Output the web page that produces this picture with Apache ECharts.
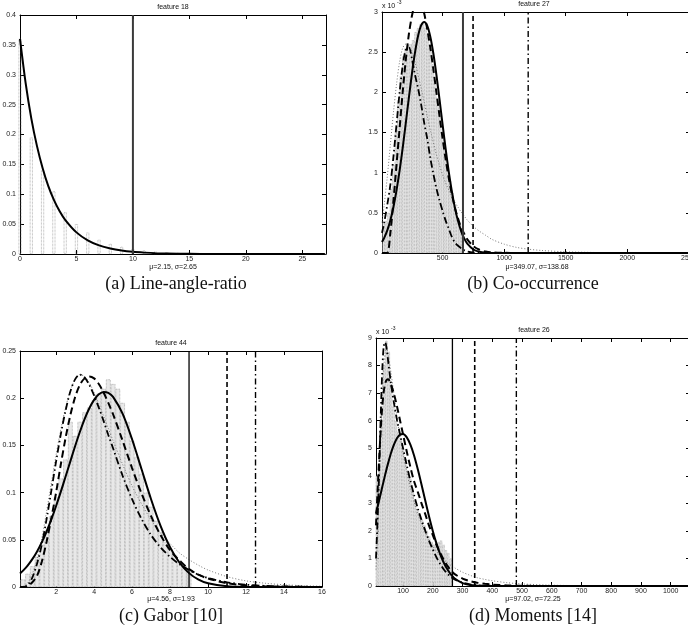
<!DOCTYPE html>
<html>
<head>
<meta charset="utf-8">
<script src="https://cdn.jsdelivr.net/npm/echarts@6/dist/echarts.min.js"></script>
<style>
html,body{margin:0;padding:0;background:#fff;}
#c{width:688px;height:634px;}
</style>
</head>
<body>
<div id="c"></div>
<script>
// ---------- (a) feature 18 : Line-angle-ratio ----------
const A_xTicks = [0, 5, 10, 15, 20, 25];
const A_histX = [0,1,2,3,4,5,6,7,8,9,10,11,12,13,14,15,16,17,18,19,20,21,22,23,24,25,26,27];
const A_histY = [0.36,0.195,0.14,0.105,0.07,0.05,0.036,0.024,0.017,0.012,0.008,0.006,0.004,0.003,0.002,0.002,0.0015,0.001,0.001,0.001,0.0008,0.0008,0.0006,0.0005,0.0005,0.0004,0.0004,0.0003];
const A_curveX = [0,0.5,1,1.5,2,2.5,3,3.5,4,5,6,7,8,9,10,11,12,14,16,20,27];
const A_solid  = [0.36,0.286,0.227,0.181,0.144,0.114,0.0906,0.072,0.0573,0.0362,0.0229,0.0144,0.0091,0.0057,0.0036,0.0023,0.0014,0.0006,0.0002,0,0];
const A_lineSolid = 10;

// ---------- (b) feature 27 : Co-occurrence (values in units of 1e-3) ----------
const B_xTicks = [500, 1000, 1500, 2000, 2500];
const B_histX = [20,40,60,80,100,120,140,160,180,200,220,240,260,280,300,320,340,360,380,400,420,440,460,480,500,520,540,560,580,600,620,640,660];
const B_histY = [0.38,0.4,0.5,0.8,1.1,1.5,1.9,2.2,2.45,2.55,2.55,2.6,2.65,2.75,2.8,2.85,2.85,2.8,2.7,2.55,2.35,2.15,1.9,1.7,1.5,1.3,1.1,0.9,0.75,0.6,0.45,0.35,0.25];
const B_curveX  = [7,25,50,75,100,125,150,175,200,225,250,275,300,325,350,375,400,425,450,475,500,525,550,575,600,625,650,675,700,750,800,850,900,1000,1100,1200,1300,1500,1750,2000,2250,2510];
const B_solid   = [0.137,0.188,0.281,0.408,0.573,0.78,1.026,1.307,1.614,1.928,2.229,2.494,2.702,2.834,2.877,2.827,2.689,2.477,2.208,1.905,1.592,1.286,1.006,0.763,0.559,0.397,0.273,0.182,0.117,0.044,0.0146,0.0042,0.0011,0.0001,0,0,0,0,0,0,0,0];
const B_dashed  = [0,0,0,0.25,0.65,1.1,1.55,2.0,2.4,2.72,2.95,3.1,3.15,3.1,2.98,2.78,2.55,2.28,1.99,1.7,1.42,1.16,0.93,0.73,0.56,0.43,0.32,0.24,0.17,0.085,0.04,0.018,0.008,0.002,0,0,0,0,0,0,0,0];
const B_dashDot = [0.25,0.38,0.6,0.85,1.2,1.6,2.0,2.33,2.53,2.56,2.42,2.22,2.05,1.85,1.62,1.42,1.18,0.98,0.8,0.65,0.52,0.4,0.3,0.2,0.13,0.09,0.06,0.035,0.02,0.005,0,0,0,0,0,0,0,0,0,0,0,0];
const B_dotted  = [0.38,0.6,0.95,1.35,1.75,2.1,2.38,2.55,2.6,2.58,2.5,2.38,2.22,2.05,1.88,1.7,1.53,1.37,1.22,1.09,0.97,0.87,0.78,0.7,0.63,0.57,0.51,0.46,0.41,0.33,0.27,0.22,0.17,0.11,0.07,0.047,0.032,0.015,0.006,0.003,0.0015,0.001];
const B_lineSolid = 665, B_lineDashed = 747, B_lineDashDot = 1195;

// ---------- (c) feature 44 : Gabor ----------
const C_xTicks = [2, 4, 6, 8, 10, 12, 14, 16];
const C_histX = [0.25,0.5,0.75,1,1.25,1.5,1.75,2,2.25,2.5,2.75,3,3.25,3.5,3.75,4,4.25,4.5,4.75,5,5.25,5.5,5.75,6,6.25,6.5,6.75,7,7.25,7.5,7.75,8,8.25,8.5,8.75,9];
const C_histY = [0.008,0.014,0.022,0.032,0.045,0.06,0.075,0.095,0.115,0.135,0.175,0.16,0.175,0.185,0.19,0.198,0.205,0.21,0.22,0.215,0.21,0.195,0.175,0.155,0.138,0.12,0.1,0.085,0.07,0.058,0.048,0.04,0.034,0.028,0.022,0.018];
const C_curveX  = [0.1,0.3,0.5,0.75,1,1.25,1.5,1.75,2,2.25,2.5,2.75,3,3.25,3.5,3.75,4,4.25,4.5,4.75,5,5.5,6,6.5,7,7.5,8,8.5,9,9.5,10,11,12,13,14,15,16];
const C_solid   = [0.0143,0.0181,0.0226,0.0295,0.0377,0.0475,0.0588,0.0716,0.0858,0.101,0.117,0.1331,0.1491,0.1642,0.1778,0.1893,0.1982,0.2041,0.2066,0.2057,0.2014,0.1836,0.1565,0.1247,0.093,0.0648,0.0422,0.0257,0.0147,0.0078,0.0039,0.0008,0.0001,0,0,0,0];
const C_dashed  = [0,0,0.001,0.005,0.012,0.027,0.048,0.073,0.1,0.13,0.158,0.182,0.201,0.214,0.221,0.223,0.221,0.215,0.206,0.195,0.183,0.155,0.126,0.099,0.075,0.055,0.039,0.028,0.019,0.013,0.009,0.004,0.0018,0.0008,0.0003,0.0001,0];
const C_dashDot = [0,0,0.002,0.01,0.025,0.045,0.072,0.102,0.133,0.162,0.187,0.207,0.22,0.225,0.222,0.214,0.203,0.19,0.176,0.161,0.147,0.118,0.093,0.072,0.055,0.042,0.032,0.024,0.018,0.013,0.0095,0.005,0.0025,0.0012,0.0006,0.0003,0.0001];
const C_dotted  = [0,0.001,0.004,0.014,0.03,0.052,0.08,0.11,0.14,0.167,0.19,0.208,0.22,0.225,0.223,0.216,0.206,0.194,0.181,0.168,0.155,0.13,0.107,0.088,0.071,0.057,0.046,0.036,0.029,0.023,0.018,0.011,0.0065,0.004,0.0024,0.0014,0.0008];
const C_lineSolid = 9, C_lineDashed = 11, C_lineDashDot = 12.5;

// ---------- (d) feature 26 : Moments (values in units of 1e-3) ----------
const D_xTicks = [100, 200, 300, 400, 500, 600, 700, 800, 900, 1000];
const D_histX = [12,20,28,36,44,52,60,68,76,84,92,100,108,116,124,132,140,148,156,164,172,180,188,196,204,212,220,228,236,244,252,260];
const D_histY = [4.0,4.4,6.0,8.0,8.9,8.5,7.3,6.5,6.0,5.6,5.3,5.0,4.6,4.2,3.9,3.5,3.1,2.8,2.6,2.4,2.2,2.0,1.8,1.6,1.5,1.5,1.6,1.65,1.5,1.3,1.2,1.0];
const D_curveX  = [9,15,20,25,30,35,40,45,50,60,70,80,90,100,112,125,137,150,162,175,187,200,212,225,237,250,262,275,300,325,350,375,400,450,500,600,700,800,1000,1065];
const D_solid   = [2.63,2.9,3.129,3.36,3.59,3.821,4.044,4.261,4.468,4.843,5.149,5.371,5.496,5.517,5.404,5.123,4.738,4.22,3.685,3.084,2.543,2.0,1.557,1.15,0.845,0.588,0.407,0.265,0.107,0.038,0.012,0.0034,0.0008,0,0,0,0,0,0,0];
const D_dashed  = [2.2,3.6,4.7,5.7,6.5,7.05,7.35,7.48,7.5,7.3,6.95,6.5,6.0,5.5,4.9,4.3,3.8,3.4,3.0,2.6,2.2,1.85,1.5,1.2,0.95,0.72,0.55,0.42,0.27,0.18,0.12,0.08,0.05,0.02,0.008,0.001,0,0,0,0];
const D_dashDot = [1.0,2.6,4.3,6.2,7.8,8.7,8.85,8.6,8.15,7.3,6.6,6.0,5.5,5.0,4.4,3.8,3.3,2.8,2.4,2.0,1.65,1.33,1.05,0.8,0.6,0.44,0.32,0.23,0.12,0.06,0.03,0.015,0.007,0.002,0,0,0,0,0,0];
const D_dotted  = [0.6,2.0,3.6,5.3,6.8,7.9,8.5,8.6,8.4,7.7,6.9,6.1,5.4,4.8,4.15,3.55,3.05,2.6,2.25,1.93,1.67,1.45,1.26,1.1,0.96,0.84,0.74,0.65,0.5,0.39,0.3,0.24,0.19,0.12,0.075,0.03,0.012,0.005,0.001,0.0005];
const D_lineSolid = 266, D_lineDashed = 341, D_lineDashDot = 481;

// ---------- layout ----------
const FONT = '"Liberation Sans", Arial, sans-serif';
const SERIF = '"Liberation Serif", "Times New Roman", serif';

const grids = [
  {left: 20,  top: 15,  width: 306, height: 239},
  {left: 382, top: 12,  width: 308, height: 241},
  {left: 20,  top: 351, width: 302, height: 236},
  {left: 376, top: 338, width: 314, height: 248}
];
const xRanges = [[0, 27.1], [7, 2510], [0.1, 16], [9, 1065]];
const xTickSets = [A_xTicks, B_xTicks, C_xTicks, D_xTicks];
const yRanges = [[0, 0.4, 0.05], [0, 3, 0.5], [0, 0.25, 0.05], [0, 9, 1]];

const plain = v => String(+v.toFixed(6));

const xAxes = [], yAxes = [];
grids.forEach((g, i) => {
  const [mn, mx] = xRanges[i];
  const ticks = xTickSets[i];
  const line = {show: true, onZero: false, lineStyle: {color: '#000', width: 1}};
  const tick = {show: true, inside: true, length: 4, customValues: ticks, lineStyle: {color: '#000', width: 1}};
  xAxes.push({type: 'value', gridIndex: i, min: mn, max: mx, position: 'bottom',
    splitLine: {show: false}, axisLine: line, axisTick: tick,
    axisLabel: {customValues: ticks, formatter: plain, fontSize: 7, fontFamily: FONT, color: '#222', margin: 2}});
  xAxes.push({type: 'value', gridIndex: i, min: mn, max: mx, position: 'top',
    splitLine: {show: false}, axisLine: line, axisTick: tick, axisLabel: {show: false}});
  const [ymn, ymx, yint] = yRanges[i];
  const ytick = {show: true, inside: true, length: 4, lineStyle: {color: '#000', width: 1}};
  yAxes.push({type: 'value', gridIndex: i, min: ymn, max: ymx, interval: yint, position: 'left',
    splitLine: {show: false}, axisLine: line, axisTick: ytick,
    axisLabel: {formatter: plain, fontSize: 7, fontFamily: FONT, color: '#222', margin: 4}});
  yAxes.push({type: 'value', gridIndex: i, min: ymn, max: ymx, interval: yint, position: 'right',
    splitLine: {show: false}, axisLine: line, axisTick: ytick, axisLabel: {show: false}});
});

const pairs = (xs, ys) => xs.map((x, k) => [x, ys[k]]);

function curve(i, xs, ys, style, z) {
  return {type: 'line', xAxisIndex: 2 * i, yAxisIndex: 2 * i, data: pairs(xs, ys),
    symbol: 'none', showSymbol: false, smooth: 0.3, clip: true, silent: true,
    lineStyle: style, z: z || 4};
}
function vline(i, x, style) {
  const ymax = yRanges[i][1];
  return {type: 'line', xAxisIndex: 2 * i, yAxisIndex: 2 * i, data: [[x, 0], [x, ymax]],
    symbol: 'none', showSymbol: false, silent: true, lineStyle: style, z: 5};
}
function hist(i, xs, ys, w, fill) {
  return {type: 'bar', xAxisIndex: 2 * i, yAxisIndex: 2 * i, data: pairs(xs, ys),
    barWidth: w, silent: true, z: 2,
    itemStyle: {color: fill, borderColor: '#939393', borderWidth: 0.7, borderType: 'dotted'}};
}

const SOLID = {color: '#000', width: 2};
const DASHED = {color: '#000', width: 2, type: [7, 4]};
const DASHDOT = {color: '#000', width: 1.8, type: [7, 3, 1.5, 3]};
const DOTTED = {color: '#777', width: 1, type: [1, 2]};
const VSOLID_GRAY = {color: '#3a3a3a', width: 2};
const VSOLID = {color: '#000', width: 1.3};
const VDASHED = {color: '#000', width: 1.6, type: [5, 3]};
const VDASHDOT = {color: '#000', width: 1.4, type: [6, 3, 1.5, 3]};
const STIPPLE = '#e8e8e8';

const series = [
  // (a)
  hist(0, A_histX, A_histY, 3, 'rgba(255,255,255,0)'),
  curve(0, A_curveX, A_solid, SOLID),
  vline(0, A_lineSolid, VSOLID_GRAY),
  // (b)
  hist(1, B_histX, B_histY, 2.5, STIPPLE),
  curve(1, B_curveX, B_dotted, DOTTED, 3),
  curve(1, B_curveX, B_dashDot, DASHDOT),
  curve(1, B_curveX, B_dashed, DASHED),
  curve(1, B_curveX, B_solid, SOLID),
  vline(1, B_lineSolid, VSOLID_GRAY),
  vline(1, B_lineDashed, VDASHED),
  vline(1, B_lineDashDot, VDASHDOT),
  // (c)
  hist(2, C_histX, C_histY, 4.75, STIPPLE),
  curve(2, C_curveX, C_dotted, DOTTED, 3),
  curve(2, C_curveX, C_dashDot, DASHDOT),
  curve(2, C_curveX, C_dashed, DASHED),
  curve(2, C_curveX, C_solid, SOLID),
  vline(2, C_lineSolid, VSOLID),
  vline(2, C_lineDashed, VDASHED),
  vline(2, C_lineDashDot, VDASHDOT),
  // (d)
  hist(3, D_histX, D_histY, 2.4, STIPPLE),
  curve(3, D_curveX, D_dotted, DOTTED, 3),
  curve(3, D_curveX, D_dashDot, DASHDOT),
  curve(3, D_curveX, D_dashed, DASHED),
  curve(3, D_curveX, D_solid, SOLID),
  vline(3, D_lineSolid, VSOLID),
  vline(3, D_lineDashed, VDASHED),
  vline(3, D_lineDashDot, VDASHDOT)
];

function txt(text, x, y, size, family, align) {
  return {type: 'text', silent: true, z: 10,
    style: {text: text, x: x, y: y, fill: '#111', font: size + 'px ' + family,
      align: align || 'center', verticalAlign: 'middle'}};
}

const graphic = [
  txt('feature 18', 173, 7, 7, FONT),
  txt('feature 27', 534, 4, 7, FONT),
  txt('feature 44', 171, 343, 7, FONT),
  txt('feature 26', 534, 330, 7, FONT),
  txt('μ=2.15, σ=2.65', 173, 267, 7, FONT),
  txt('μ=349.07, σ=138.68', 537, 267, 7, FONT),
  txt('μ=4.56, σ=1.93', 171, 599, 7, FONT),
  txt('μ=97.02, σ=72.25', 533, 599, 7, FONT),
  txt('x 10', 382, 6, 7, FONT, 'left'),
  txt('-3', 397, 3, 5, FONT, 'left'),
  txt('x 10', 376, 332, 7, FONT, 'left'),
  txt('-3', 391, 329, 5, FONT, 'left'),
  txt('(a) Line-angle-ratio', 176, 284, 18, SERIF),
  txt('(b) Co-occurrence', 533, 284, 18, SERIF),
  txt('(c) Gabor [10]', 171, 616, 18, SERIF),
  txt('(d) Moments [14]', 533, 616, 18, SERIF)
];

const chart = echarts.init(document.getElementById('c'));
chart.setOption({
  animation: false,
  backgroundColor: '#fff',
  grid: grids.map(g => Object.assign({containLabel: false, outerBoundsMode: 'none', show: false}, g)),
  xAxis: xAxes,
  yAxis: yAxes,
  series: series,
  graphic: graphic
});
</script>
</body>
</html>
